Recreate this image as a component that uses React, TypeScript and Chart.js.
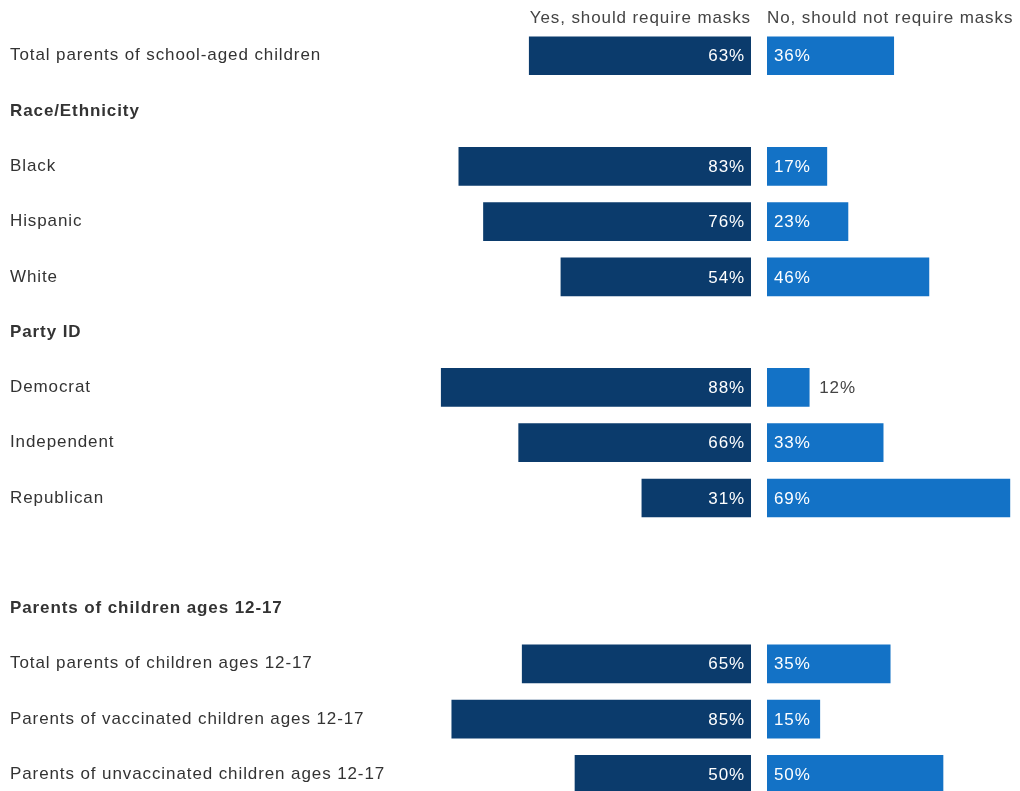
import React, { useEffect, useRef } from "react";
import { Chart, registerables } from "chart.js";

Chart.register(...registerables);

const categories: string[] = [
  "Total parents of school-aged children",
  "Race/Ethnicity",
  "Black",
  "Hispanic",
  "White",
  "Party ID",
  "Democrat",
  "Independent",
  "Republican",
  "",
  "Parents of children ages 12-17",
  "Total parents of children ages 12-17",
  "Parents of vaccinated children ages 12-17",
  "Parents of unvaccinated children ages 12-17",
];

const isHeader: boolean[] = [false, true, false, false, false, true, false, false, false, false, true, false, false, false];

const yesValues: (number | null)[] = [63, null, 83, 76, 54, null, 88, 66, 31, null, null, 65, 85, 50];
const noValues: (number | null)[] = [36, null, 17, 23, 46, null, 12, 33, 69, null, null, 35, 15, 50];

const seriesNames = ["Yes, should require masks", "No, should not require masks"];

const FONT = '"Liberation Sans", Arial, Helvetica, sans-serif';
const FONT_SIZE = 17;
const LETTER_SPACING = "0.9px";
const YES_COLOR = "#0b3b6c";
const NO_COLOR = "#1372c6";
const TEXT_COLOR = "#333333";
const PX_PER_PCT = 3.52;
const CANVAS_H = 802;
const LEFT_W = 751;
const AXIS_W = 420;
const RIGHT_X = 767;
const RIGHT_W = 253;

const spacingPlugin = {
  id: "letterSpacing",
  beforeDraw(chart: any) {
    (chart.ctx as any).letterSpacing = LETTER_SPACING;
  },
};

function makeLabelPlugin(values: (number | null)[], side: "left" | "right") {
  return {
    id: "barLabels" + side,
    afterDatasetsDraw(chart: any) {
      const ctx = chart.ctx;
      const meta = chart.getDatasetMeta(0);
      ctx.save();
      (ctx as any).letterSpacing = LETTER_SPACING;
      ctx.font = `${FONT_SIZE}px ${FONT}`;
      ctx.textBaseline = "middle";
      meta.data.forEach((bar: any, i: number) => {
        const v = values[i];
        if (v == null) return;
        const { x, base, y } = bar.getProps(["x", "base", "y"], true);
        const w = Math.abs(x - base);
        const text = `${v}%`;
        if (side === "left") {
          ctx.fillStyle = "#ffffff";
          ctx.textAlign = "right";
          ctx.fillText(text, base - 6, y + 1);
        } else {
          if (w < 50) {
            ctx.fillStyle = "#444444";
            ctx.textAlign = "left";
            ctx.fillText(text, x + 10, y + 1);
          } else {
            ctx.fillStyle = "#ffffff";
            ctx.textAlign = "left";
            ctx.fillText(text, base + 7, y + 1);
          }
        }
      });
      ctx.restore();
    },
  };
}

const titleOpts = (text: string, align: "start" | "end") => ({
  display: true,
  text,
  align,
  color: "#444444",
  font: { family: FONT, size: FONT_SIZE, weight: "normal" as const, lineHeight: 1.1 },
  padding: { top: 9.4, bottom: 0 },
});

export default function App() {
  const leftRef = useRef<HTMLCanvasElement>(null);
  const rightRef = useRef<HTMLCanvasElement>(null);

  useEffect(() => {
    const left = new Chart(leftRef.current!, {
      type: "bar",
      data: {
        labels: categories,
        datasets: [
          {
            label: seriesNames[0],
            data: yesValues,
            backgroundColor: YES_COLOR,
            barThickness: 38,
          },
        ],
      },
      options: {
        indexAxis: "y",
        responsive: false,
        animation: false,
        layout: { autoPadding: false, padding: { left: 10, right: 0, top: 0, bottom: 0 } },
        plugins: {
          legend: { display: false },
          tooltip: { enabled: false },
          title: titleOpts(seriesNames[0], "end"),
        },
        scales: {
          x: {
            display: false,
            reverse: true,
            min: 0,
            max: (LEFT_W - 10 - AXIS_W) / PX_PER_PCT,
          },
          y: {
            grid: { display: false },
            border: { display: false },
            afterFit: (scale: any) => {
              scale.width = AXIS_W;
              scale.paddingTop = 0;
              scale.paddingBottom = 0;
            },
            ticks: {
              autoSkip: false,
              crossAlign: "far",
              padding: 0,
              color: TEXT_COLOR,
              font: (c: any) => ({
                family: FONT,
                size: FONT_SIZE,
                weight: isHeader[c.index] ? "bold" : "normal",
              }),
            },
          },
        },
      },
      plugins: [spacingPlugin, makeLabelPlugin(yesValues, "left")],
    } as any);

    const right = new Chart(rightRef.current!, {
      type: "bar",
      data: {
        labels: categories,
        datasets: [
          {
            label: seriesNames[1],
            data: noValues,
            backgroundColor: NO_COLOR,
            barThickness: 38,
          },
        ],
      },
      options: {
        indexAxis: "y",
        responsive: false,
        animation: false,
        layout: { autoPadding: false, padding: 0 },
        plugins: {
          legend: { display: false },
          tooltip: { enabled: false },
          title: titleOpts(seriesNames[1], "start"),
        },
        scales: {
          x: { display: false, min: 0, max: RIGHT_W / PX_PER_PCT },
          y: { display: false },
        },
      },
      plugins: [spacingPlugin, makeLabelPlugin(noValues, "right")],
    } as any);

    return () => {
      left.destroy();
      right.destroy();
    };
  }, []);

  return (
    <div
      style={{
        position: "absolute",
        left: 0,
        top: 0,
        width: 1020,
        height: 791,
        overflow: "hidden",
        background: "#ffffff",
      }}
    >
      <canvas
        ref={leftRef}
        width={LEFT_W}
        height={CANVAS_H}
        style={{ position: "absolute", left: 0, top: 0 }}
      />
      <canvas
        ref={rightRef}
        width={RIGHT_W}
        height={CANVAS_H}
        style={{ position: "absolute", left: RIGHT_X, top: 0 }}
      />
    </div>
  );
}
